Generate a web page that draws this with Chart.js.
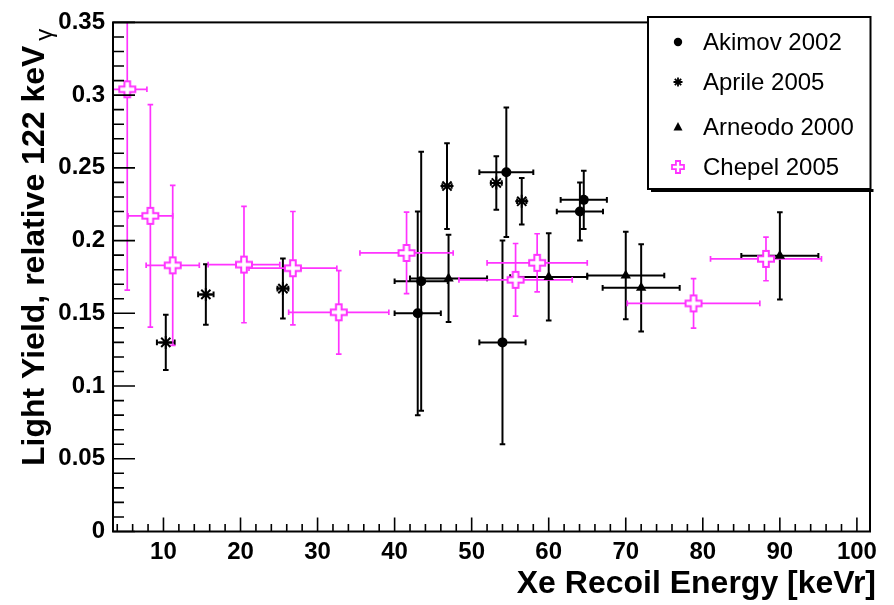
<!DOCTYPE html>
<html>
<head>
<meta charset="utf-8">
<script src="https://cdn.jsdelivr.net/npm/chart.js@4.4.1/dist/chart.umd.min.js"></script>
<style>
  html, body { margin: 0; padding: 0; background: #fff; }
  #wrap { width: 894px; height: 605px; }
</style>
</head>
<body>
<div id="wrap"><canvas id="myChart" width="894" height="605"></canvas></div>
<script>
const AKIMOV_X = [43.0, 43.45, 54.5, 54.0, 64.55, 64.05];
const AKIMOV_Y = [0.150, 0.172, 0.247, 0.130, 0.228, 0.220];
const AKIMOV_XERR = [3.0, 3.45, 3.5, 3.0, 3.0, 3.0];
const AKIMOV_YERR = [0.070, 0.089, 0.0445, 0.070, 0.020, 0.020];

const APRILE_X = [10.3, 15.5, 25.5, 46.8, 53.2, 56.5];
const APRILE_Y = [0.130, 0.163, 0.167, 0.2375, 0.2396, 0.227];
const APRILE_XERR = [1.15, 1.0, 0.7, 0.6, 0.7, 0.6];
const APRILE_YERR = [0.019, 0.0208, 0.0206, 0.0295, 0.0184, 0.016];

const ARNEODO_X = [47.0, 60.0, 70.0, 72.0, 90.0];
const ARNEODO_Y = [0.174, 0.175, 0.176, 0.1675, 0.1895];
const ARNEODO_XERR = [5, 5, 5, 5, 5];
const ARNEODO_YERR = [0.030, 0.030, 0.030, 0.030, 0.030];

const CHEPEL_X = [5.3, 8.3, 11.2, 20.45, 26.8, 32.75, 41.55, 55.7, 58.5, 78.8, 88.2];
const CHEPEL_Y = [0.304, 0.217, 0.183, 0.1835, 0.181, 0.1507, 0.1915, 0.173, 0.1847, 0.1568, 0.1874];
const CHEPEL_XERR = [2.55, 2.9, 3.45, 4.65, 5.7, 6.5, 6.05, 7.35, 6.5, 8.6, 7.2];
const CHEPEL_YERR = [0.138, 0.0765, 0.055, 0.040, 0.039, 0.0287, 0.028, 0.025, 0.020, 0.017, 0.015];

const LEGEND_LABELS = ['Akimov 2002', 'Aprile 2005', 'Arneodo 2000', 'Chepel 2005'];
const X_TITLE = 'Xe Recoil Energy [keVr]';
const Y_TITLE = 'Light Yield, relative 122 keV';
const Y_TITLE_SUB = 'γ';

const X_MIN = 3.45, X_MAX = 101.7;
const Y_MIN = 0, Y_MAX = 0.35;

const FONT = "'Liberation Sans', Arial, Helvetica, sans-serif";
const MAGENTA = 'rgb(255,51,255)';
const CAP = 2.8;

function toPoints(xs, ys) {
    return xs.map((x, i) => ({ x: x, y: ys[i] }));
}

// open cross marker (ROOT style 28) as an image point style
function openCross(R, w, lw) {
    const size = Math.ceil(2 * R + lw + 2);
    const c = document.createElement('canvas');
    c.width = size; c.height = size;
    const g = c.getContext('2d');
    g.translate(size / 2, size / 2);
    g.beginPath();
    g.moveTo(-w, -R); g.lineTo(w, -R); g.lineTo(w, -w); g.lineTo(R, -w);
    g.lineTo(R, w); g.lineTo(w, w); g.lineTo(w, R); g.lineTo(-w, R);
    g.lineTo(-w, w); g.lineTo(-R, w); g.lineTo(-R, -w); g.lineTo(-w, -w);
    g.closePath();
    g.fillStyle = '#fff';
    g.fill();
    g.strokeStyle = MAGENTA;
    g.lineWidth = lw;
    g.stroke();
    return c;
}

const crossBig = openCross(8, 2.8, 2);
const crossSmall = openCross(6, 2.1, 1.8);

// error bars with end caps, under the markers
const errorBars = {
    id: 'errorBars',
    beforeDatasetsDraw(chart) {
        const ctx = chart.ctx, xs = chart.scales.x, ys = chart.scales.y, a = chart.chartArea;
        ctx.save();
        ctx.beginPath();
        ctx.rect(a.left, a.top, a.right - a.left, a.bottom - a.top);
        ctx.clip();
        chart.data.datasets.forEach(ds => {
            ctx.strokeStyle = ds.borderColor === '#000' ? '#000' : MAGENTA;
            ctx.lineWidth = ds.errWidth;
            ds.data.forEach((p, i) => {
                const px = xs.getPixelForValue(p.x), py = ys.getPixelForValue(p.y);
                const x0 = xs.getPixelForValue(p.x - ds.errX[i]);
                const x1 = xs.getPixelForValue(p.x + ds.errX[i]);
                const y0 = ys.getPixelForValue(p.y - ds.errY[i]);
                const y1 = ys.getPixelForValue(p.y + ds.errY[i]);
                ctx.beginPath();
                ctx.moveTo(x0, py); ctx.lineTo(x1, py);
                ctx.moveTo(px, y0); ctx.lineTo(px, y1);
                ctx.moveTo(x0, py - CAP); ctx.lineTo(x0, py + CAP);
                ctx.moveTo(x1, py - CAP); ctx.lineTo(x1, py + CAP);
                ctx.moveTo(px - CAP, y0); ctx.lineTo(px + CAP, y0);
                ctx.moveTo(px - CAP, y1); ctx.lineTo(px + CAP, y1);
                ctx.stroke();
            });
        });
        ctx.restore();
    }
};

// frame, inward ticks, axis titles and legend box
const frameAndLegend = {
    id: 'frameAndLegend',
    afterDraw(chart) {
        const ctx = chart.ctx, xs = chart.scales.x, ys = chart.scales.y, a = chart.chartArea;
        ctx.save();
        ctx.strokeStyle = '#000';
        ctx.lineWidth = 2;
        ctx.strokeRect(a.left, a.top, a.right - a.left, a.bottom - a.top);

        ctx.lineWidth = 1.6;
        ctx.beginPath();
        for (let k = 0; k <= 35; k++) {
            const py = ys.getPixelForValue(k / 100);
            const len = k % 5 === 0 ? 22 : 11;
            ctx.moveTo(a.left, py); ctx.lineTo(a.left + len, py);
        }
        for (let v = 4; v <= 100; v += 2) {
            const px = xs.getPixelForValue(v);
            const len = v % 10 === 0 ? 14 : 7.5;
            ctx.moveTo(px, a.bottom); ctx.lineTo(px, a.bottom - len);
        }
        ctx.stroke();

        ctx.fillStyle = '#000';
        // x title, right aligned
        ctx.font = "bold 32px " + FONT;
        ctx.textAlign = 'right';
        ctx.textBaseline = 'middle';
        ctx.fillText(X_TITLE, 876, 584);

        // y title, rotated, with the gamma as a subscript
        ctx.save();
        ctx.translate(35, 0);
        ctx.rotate(-Math.PI / 2);
        ctx.textBaseline = 'middle';
        ctx.textAlign = 'left';
        ctx.font = "bold 32px " + FONT;
        ctx.fillText(Y_TITLE, -466, 0);
        const w = ctx.measureText(Y_TITLE).width;
        ctx.font = "24px " + FONT;
        ctx.fillText(Y_TITLE_SUB, -466 + w + 5, 10);
        ctx.restore();

        // legend
        const L = 648, T = 17, R = 870.5, B = 189;
        ctx.fillStyle = '#000';
        ctx.fillRect(L + 3, B, R - L, 3);
        ctx.fillStyle = '#fff';
        ctx.fillRect(L, T, R - L, B - T);
        ctx.lineWidth = 2;
        ctx.strokeRect(L, T, R - L, B - T);

        const rows = [42, 82, 127, 167];
        const mx = 678;
        ctx.fillStyle = '#000';
        ctx.strokeStyle = '#000';
        ctx.beginPath();
        ctx.arc(mx, rows[0], 4.2, 0, Math.PI * 2);
        ctx.fill();
        ctx.lineWidth = 1.8;
        ctx.beginPath();
        const s = 4.5, d = s * Math.SQRT1_2;
        ctx.moveTo(mx - s, rows[1]); ctx.lineTo(mx + s, rows[1]);
        ctx.moveTo(mx, rows[1] - s); ctx.lineTo(mx, rows[1] + s);
        ctx.moveTo(mx - d, rows[1] - d); ctx.lineTo(mx + d, rows[1] + d);
        ctx.moveTo(mx - d, rows[1] + d); ctx.lineTo(mx + d, rows[1] - d);
        ctx.stroke();
        ctx.beginPath();
        ctx.moveTo(mx, rows[2] - 5); ctx.lineTo(mx + 4.5, rows[2] + 3.5); ctx.lineTo(mx - 4.5, rows[2] + 3.5);
        ctx.closePath();
        ctx.fill();
        ctx.drawImage(crossSmall, mx - crossSmall.width / 2, rows[3] - crossSmall.height / 2);

        ctx.font = "24px " + FONT;
        ctx.textAlign = 'left';
        ctx.textBaseline = 'middle';
        LEGEND_LABELS.forEach((t, i) => ctx.fillText(t, 703, rows[i] + 1));
        ctx.restore();
    }
};

const config = {
    type: 'scatter',
    data: {
        datasets: [
            {
                label: LEGEND_LABELS[0],
                data: toPoints(AKIMOV_X, AKIMOV_Y),
                errX: AKIMOV_XERR, errY: AKIMOV_YERR, errWidth: 2,
                pointStyle: 'circle', pointRadius: 5,
                backgroundColor: '#000', borderColor: '#000', borderWidth: 0,
                order: 1
            },
            {
                label: LEGEND_LABELS[1],
                data: toPoints(APRILE_X, APRILE_Y),
                errX: APRILE_XERR, errY: APRILE_YERR, errWidth: 2,
                pointStyle: 'star', pointRadius: 6.5,
                backgroundColor: '#000', borderColor: '#000', borderWidth: 2,
                order: 2
            },
            {
                label: LEGEND_LABELS[2],
                data: toPoints(ARNEODO_X, ARNEODO_Y),
                errX: ARNEODO_XERR, errY: ARNEODO_YERR, errWidth: 2,
                pointStyle: 'triangle', pointRadius: 6,
                backgroundColor: '#000', borderColor: '#000', borderWidth: 0,
                order: 3
            },
            {
                label: LEGEND_LABELS[3],
                data: toPoints(CHEPEL_X, CHEPEL_Y),
                errX: CHEPEL_XERR, errY: CHEPEL_YERR, errWidth: 1.7,
                pointStyle: crossBig, pointRadius: 8,
                backgroundColor: '#fff', borderColor: MAGENTA, borderWidth: 0,
                order: 0
            }
        ]
    },
    options: {
        responsive: false,
        animation: false,
        events: [],
        layout: { padding: { top: 17, right: 24, left: 0, bottom: 0 } },
        plugins: {
            legend: { display: false },
            tooltip: { enabled: false }
        },
        scales: {
            x: {
                type: 'linear',
                min: X_MIN, max: X_MAX,
                grid: { display: false, drawTicks: false },
                border: { display: false },
                ticks: {
                    stepSize: 10, includeBounds: false, autoSkip: false, maxRotation: 0,
                    padding: 6, color: '#000',
                    font: { family: FONT, size: 24, weight: 'bold' }
                },
                afterFit(scale) { scale.height = 73.5; }
            },
            y: {
                type: 'linear',
                min: Y_MIN, max: Y_MAX,
                grid: { display: false, drawTicks: false },
                border: { display: false },
                ticks: {
                    stepSize: 0.05, autoSkip: false, padding: 8, color: '#000',
                    font: { family: FONT, size: 24, weight: 'bold' },
                    callback: v => String(Math.round(v * 100) / 100)
                },
                afterFit(scale) { scale.width = 113; }
            }
        }
    },
    plugins: [errorBars, frameAndLegend]
};

const myChart = new Chart(document.getElementById('myChart'), config);
</script>
</body>
</html>
